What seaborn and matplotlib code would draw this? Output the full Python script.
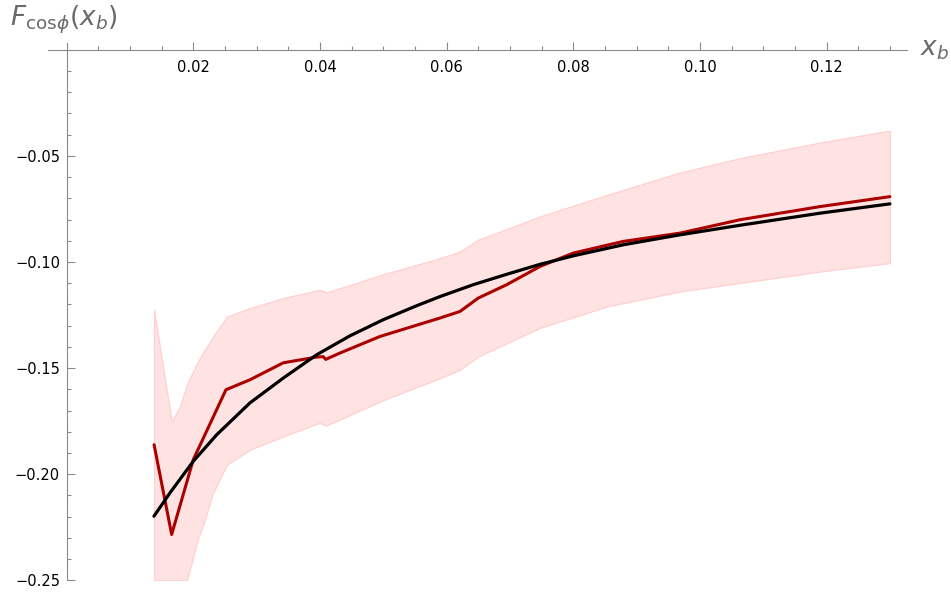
import matplotlib
matplotlib.use("Agg")
import matplotlib.pyplot as plt
import numpy as np
import pandas as pd
import seaborn as sns

# ---------------- data ----------------
red_x = [0.0138, 0.01658, 0.0200, 0.02515, 0.02895, 0.03420, 0.03948, 0.04052,
         0.04090, 0.04316, 0.04947, 0.05895, 0.06211, 0.06499, 0.06948, 0.07474,
         0.08000, 0.08789, 0.09684, 0.10632, 0.11895, 0.1300]
red_y = [-0.1861, -0.2284, -0.1931, -0.1602, -0.1555, -0.1475, -0.1448, -0.1446,
         -0.1459, -0.1429, -0.1351, -0.1264, -0.1233, -0.1170, -0.1107, -0.1021,
         -0.0958, -0.0903, -0.0864, -0.0801, -0.0739, -0.0692]

black_x = [0.01378, 0.01631, 0.01999, 0.02369, 0.02894, 0.03420, 0.03948, 0.04473,
           0.04999, 0.05527, 0.05895, 0.06420, 0.06948, 0.07474, 0.08000, 0.08789,
           0.09684, 0.10632, 0.11895, 0.1300]
black_y = [-0.2198, -0.2088, -0.1939, -0.1814, -0.1664, -0.1547, -0.1437, -0.1348,
           -0.1272, -0.1206, -0.1163, -0.1107, -0.1058, -0.1011, -0.0971, -0.0919,
           -0.0872, -0.0827, -0.0770, -0.0726]

band_x = [0.0138, 0.01658, 0.0179, 0.0190, 0.0207, 0.02157, 0.0231, 0.0253, 0.0290,
          0.0342, 0.0395, 0.0400, 0.0410, 0.0500, 0.0590, 0.0621, 0.0650, 0.0747,
          0.0853, 0.0968, 0.1063, 0.1190, 0.1300]
band_hi = [-0.1225, -0.1751, -0.1680, -0.1575, -0.1471, -0.1425, -0.1353, -0.1257,
           -0.1217, -0.1170, -0.1134, -0.1131, -0.1144, -0.1058, -0.0982, -0.0951,
           -0.0895, -0.0786, -0.0684, -0.0579, -0.0511, -0.0437, -0.0381]
band_lo = [-0.2500, -0.2500, -0.2500, -0.2500, -0.2308, -0.2237, -0.2090, -0.1955,
           -0.1884, -0.1822, -0.1762, -0.1759, -0.1771, -0.1651, -0.1547, -0.1508,
           -0.1445, -0.1311, -0.1210, -0.1139, -0.1099, -0.1045, -0.1005]

xtick_vals = [0.02, 0.04, 0.06, 0.08, 0.10, 0.12]
xtick_labels = ["0.02", "0.04", "0.06", "0.08", "0.10", "0.12"]
ytick_vals = [-0.25, -0.20, -0.15, -0.10, -0.05]
ytick_labels = ["\u22120.25", "\u22120.20", "\u22120.15", "\u22120.10", "\u22120.05"]

# ---------------- style ----------------
sns.set_theme(style="white")
plt.rcParams["font.family"] = ["DejaVu Sans"]
plt.rcParams["mathtext.fontset"] = "dejavusans"

W, H = 951, 594
fig = plt.figure(figsize=(W / 100, H / 100), dpi=100)
ax = fig.add_axes([48 / W, 1 - 580.3 / H, (907 - 48) / W, (580.3 - 43) / H])

ax.fill_between(band_x, band_lo, band_hi, facecolor="#FFE3E3",
                edgecolor="#FFD0D0", linewidth=0.9, zorder=1)

red_df = pd.DataFrame({"x": red_x, "y": red_y})
black_df = pd.DataFrame({"x": black_x, "y": black_y})
sns.lineplot(data=red_df, x="x", y="y", color="#AA0000", linewidth=2.2,
             estimator=None, sort=False, ax=ax, zorder=3)
sns.lineplot(data=black_df, x="x", y="y", color="black", linewidth=2.3,
             estimator=None, sort=False, ax=ax, zorder=4)

ax.set_xlim(-0.00295, 0.1327)
ax.set_ylim(-0.25, 0.0032)
ax.set_xlabel("")
ax.set_ylabel("")

for s in ["top", "right"]:
    ax.spines[s].set_visible(False)
ax.spines["left"].set_position(("data", 0))
ax.spines["bottom"].set_position(("data", 0))
for s in ["left", "bottom"]:
    ax.spines[s].set_color("#8a8a8a")
    ax.spines[s].set_linewidth(0.8)

ax.set_xticks(xtick_vals)
ax.set_xticklabels(xtick_labels)
ax.set_xticks(np.arange(0.005, 0.1301, 0.005), minor=True)
ax.set_yticks(ytick_vals)
ax.set_yticklabels(ytick_labels)
ax.set_yticks(np.arange(-0.24, -0.0, 0.01), minor=True)

ax.tick_params(axis="both", which="both", direction="in", colors="#8a8a8a",
               labelcolor="black", labelsize=10.5, width=0.8,
               bottom=True, left=True, top=False, right=False)
ax.tick_params(axis="both", which="major", length=5.5)
ax.tick_params(axis="both", which="minor", length=3)
ax.tick_params(axis="x", which="major", pad=7.5)
ax.tick_params(axis="y", which="major", pad=4.8)

fig.text(10 / W, 1 - 25 / H, r"$F_{\mathrm{cos}\phi}(x_b)$", color="#6a6a6a",
         fontsize=19, ha="left", va="baseline")
fig.text(920 / W, 1 - 56 / H, r"$x_b$", color="#6a6a6a",
         fontsize=19, ha="left", va="baseline")

fig.savefig("out.png", dpi=100)
